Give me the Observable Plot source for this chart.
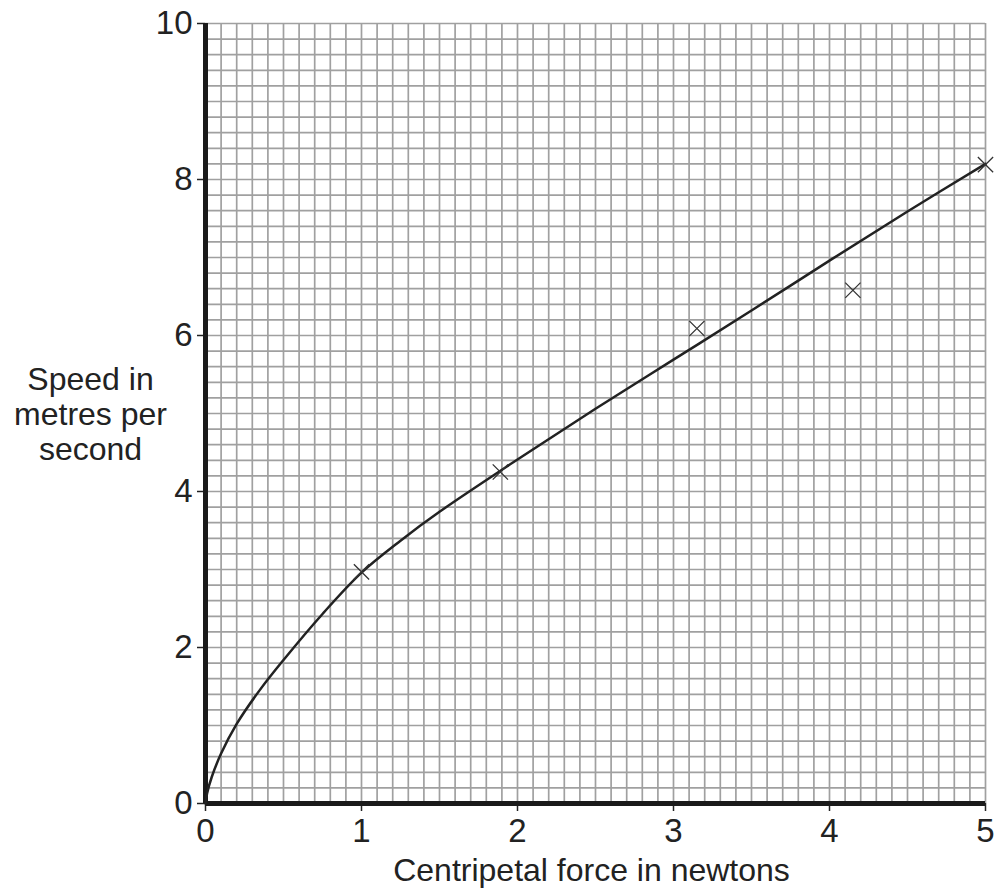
<!DOCTYPE html>
<html>
<head>
<meta charset="utf-8">
<script src="https://cdn.jsdelivr.net/npm/d3@7"></script>
<script src="https://cdn.jsdelivr.net/npm/@observablehq/plot@0.6"></script>
<style>
  html, body { margin: 0; padding: 0; background: #fff; }
  #chart svg { display: block; }
</style>
</head>
<body>
<div id="chart"></div>
<script>
// Measured points (crosses)
const forceN = [1.0, 1.89, 3.15, 4.15, 5.0];
const speedMs = [2.97, 4.25, 6.09, 6.58, 8.19];

// Hand-drawn curve of best fit, read along its length
const curveX = [0, 0.01, 0.04, 0.1, 0.2, 0.35, 0.5, 0.75, 1.0, 1.25, 1.5, 2.0, 2.5, 3.0, 3.5, 4.0, 4.5, 5.0];
const curveY = [0, 0.13, 0.34, 0.64, 1.02, 1.46, 1.84, 2.43, 2.96, 3.37, 3.74, 4.41, 5.06, 5.69, 6.32, 6.96, 7.59, 8.2];

// Tick labels
const xTicks = [0, 1, 2, 3, 4, 5];
const yTicks = [0, 2, 4, 6, 8, 10];

// Graph-paper grid lines
const gridX = d3.range(0, 51).map(i => i / 10);
const gridY = d3.range(0, 51).map(i => i / 5);

const xLabel = "Centripetal force in newtons";
const yLabel = "Speed in\nmetres per\nsecond";

const points = forceN.map((f, i) => ({f, v: speedMs[i]}));
const curve = curveX.map((x, i) => ({x, y: curveY[i]}));

const font = "'Liberation Sans', Arial, Helvetica, sans-serif";

const chart = Plot.plot({
  width: 998,
  height: 890,
  marginLeft: 205,
  marginRight: 13,
  marginTop: 23,
  marginBottom: 87,
  style: {fontFamily: font, fontSize: "33px", color: "#222", background: "#fff"},
  x: {domain: [0, 5]},
  y: {domain: [0, 10]},
  marks: [
    Plot.ruleX(gridX, {stroke: "#a0a0a0", strokeWidth: 1.7}),
    Plot.ruleY(gridY, {stroke: "#a0a0a0", strokeWidth: 1.7}),
    Plot.axisX({ticks: xTicks, tickSize: 8, tickPadding: 7, tickFormat: d => String(d), label: null, stroke: "#222", strokeWidth: 1.5, fontSize: 33}),
    Plot.axisY({ticks: yTicks, tickSize: 8, tickPadding: 5, tickFormat: d => String(d), label: null, stroke: "#222", strokeWidth: 1.5, fontSize: 33}),
    Plot.ruleX([0], {stroke: "#1a1a1a", strokeWidth: 5}),
    Plot.ruleY([0], {stroke: "#1a1a1a", strokeWidth: 5}),
    Plot.line(curve, {x: "x", y: "y", curve: "catmull-rom", stroke: "#222", strokeWidth: 2.5}),
    Plot.dot(points, {x: "f", y: "v", symbol: "times", r: 7, stroke: "#333", strokeWidth: 1.3}),
    Plot.text([xLabel], {frameAnchor: "bottom", lineAnchor: "top", dy: 55, dx: -4, fontSize: 32, fill: "#222", letterSpacing: 2.1}),
    Plot.text([yLabel], {frameAnchor: "left", dx: -115, textAnchor: "middle", lineAnchor: "middle", lineHeight: 1.1, fontSize: 32, fill: "#222", letterSpacing: 1.4})
  ]
});

document.getElementById("chart").appendChild(chart);
</script>
</body>
</html>
